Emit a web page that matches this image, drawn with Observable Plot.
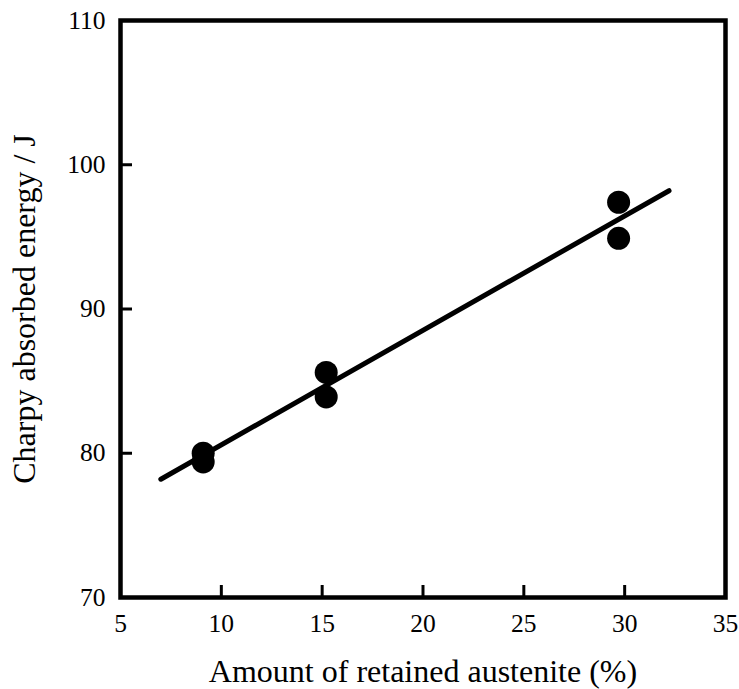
<!DOCTYPE html>
<html>
<head>
<meta charset="utf-8">
<script src="https://cdn.jsdelivr.net/npm/d3@7"></script>
<script src="https://cdn.jsdelivr.net/npm/@observablehq/plot@0.6"></script>
<style>
  body { margin: 0; background: #fff; }
  svg { font-family: "Liberation Serif", "DejaVu Serif", serif; }
</style>
</head>
<body>
<div id="chart"></div>
<script>
// Data
const austenite = [9.1, 9.1, 15.2, 15.2, 29.7, 29.7];
const energy    = [80.0, 79.4, 85.6, 83.9, 97.4, 94.9];
// Regression line endpoints
const fitX = [7.0, 32.2];
const fitY = [78.2, 98.2];
// Tick values
const xTickLabels = [5, 10, 15, 20, 25, 30, 35];
const yTickLabels = [70, 80, 90, 100, 110];
const xTickMarks = [10, 15, 20, 25, 30];
const yTickMarks = [80, 90, 100];

const W = 739, H = 689;
const mL = 120, mR = 14, mT = 20, mB = 92;
const innerW = W - mL - mR, innerH = H - mT - mB;
const tickLen = 12;

const points = austenite.map((x, i) => ({x, y: energy[i]}));
const fit = fitX.map((x, i) => ({x, y: fitY[i]}));

const chart = Plot.plot({
  width: W,
  height: H,
  marginLeft: mL,
  marginRight: mR,
  marginTop: mT,
  marginBottom: mB,
  style: {fontFamily: '"Liberation Serif", serif', background: "#fff", color: "#000"},
  x: {domain: [5, 35]},
  y: {domain: [70, 110]},
  marks: [
    // inward tick marks
    Plot.tickX(xTickMarks, {x: d => d, stroke: "#000", strokeWidth: 3, insetTop: innerH - tickLen}),
    Plot.tickY(yTickMarks, {y: d => d, stroke: "#000", strokeWidth: 3, insetRight: innerW - tickLen}),
    // tick labels
    Plot.axisX({ticks: xTickLabels, tickSize: 0, tickPadding: 16, fontSize: 25.5, label: null}),
    Plot.axisY({ticks: yTickLabels, tickSize: 0, tickPadding: 15, fontSize: 25.5, label: null}),
    // axis titles
    Plot.axisX({ticks: [], tickSize: 0, fontSize: 32,
                label: "Amount of retained austenite (%)", labelAnchor: "center",
                labelOffset: 84, labelArrow: "none"}),
    Plot.axisY({ticks: [], tickSize: 0, fontSize: 32, dy: 3,
                label: "Charpy absorbed energy / J", labelAnchor: "center",
                labelOffset: 108, labelArrow: "none"}),
    Plot.frame({stroke: "#000", strokeWidth: 4.5}),
    Plot.line(fit, {x: "x", y: "y", stroke: "#000", strokeWidth: 5, strokeLinecap: "round"}),
    Plot.dot(points, {x: "x", y: "y", r: 11.5, fill: "#000", stroke: "none"})
  ]
});
document.getElementById("chart").appendChild(chart);
</script>
</body>
</html>
